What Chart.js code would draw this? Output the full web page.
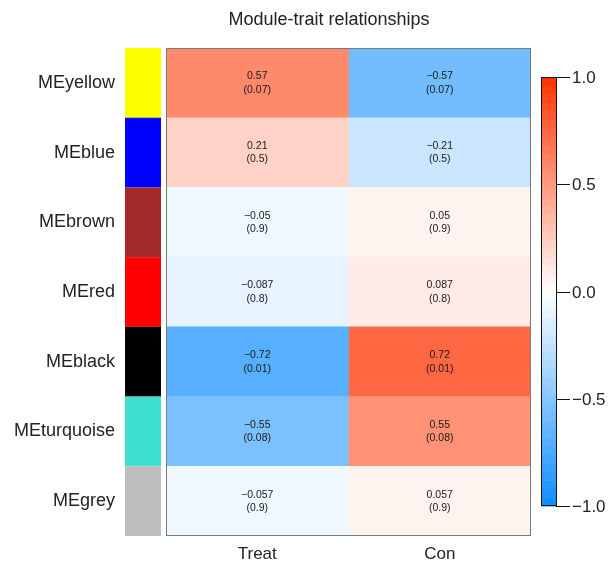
<!DOCTYPE html>
<html>
<head>
<meta charset="utf-8">
<script src="https://cdn.jsdelivr.net/npm/chart.js@4"></script>
<style>
  html, body { margin: 0; padding: 0; background: #ffffff; }
  #wrap { width: 608px; height: 565px; }
</style>
</head>
<body>
<div id="wrap"><canvas id="c" width="608" height="565"></canvas></div>
<script>
// Module eigengenes (rows) and their colour swatches
const modules = ['MEyellow', 'MEblue', 'MEbrown', 'MEred', 'MEblack', 'MEturquoise', 'MEgrey'];
const moduleColors = ['#FFFF00', '#0000FF', '#A52A2A', '#FF0000', '#000000', '#40E0D0', '#BEBEBE'];

// Traits (columns)
const traits = ['Treat', 'Con'];

// Correlation of each module with each trait, and the p-values
const treatCor = [0.57, 0.21, -0.05, -0.087, -0.72, -0.55, -0.057];
const conCor = [-0.57, -0.21, 0.05, 0.087, 0.72, 0.55, 0.057];
const treatP = [0.07, 0.5, 0.9, 0.8, 0.01, 0.08, 0.9];
const conP = [0.07, 0.5, 0.9, 0.8, 0.01, 0.08, 0.9];

// Colour key
const colorbarTicks = [1.0, 0.5, 0.0, -0.5, -1.0];

const FONT = "'Liberation Sans', Arial, Helvetica, sans-serif";
const NBINS = 50;
const BLUE_END = [13, 140, 255];
const RED_END = [255, 51, 0];

// Blue-white-red palette, quantised into NBINS steps over [-1, 1]
function binCenter(v) {
  let k = Math.floor((v + 1) / 2 * NBINS);
  k = Math.max(0, Math.min(NBINS - 1, k));
  return -1 + (k + 0.5) * 2 / NBINS;
}
function rampColor(c) {
  const end = c < 0 ? BLUE_END : RED_END;
  const t = Math.abs(c);
  const ch = end.map(e => Math.round(255 + (e - 255) * t));
  return `rgb(${ch[0]},${ch[1]},${ch[2]})`;
}
function colorFor(v) { return rampColor(binCenter(v)); }

function fmt(v) { return String(v).replace('-', '\u2212'); }

const columns = [
  { cor: treatCor, p: treatP },
  { cor: conCor, p: conP }
];

const datasets = columns.map((col, j) => ({
  label: traits[j],
  data: modules.map(() => [j, j + 1]),
  backgroundColor: col.cor.map(colorFor),
  borderWidth: 0,
  barPercentage: 1,
  categoryPercentage: 1,
  grouped: false,
  xAxisID: 'x',
  yAxisID: 'y'
}));

function noPad(scale) {
  scale.paddingTop = 0;
  scale.paddingBottom = 0;
  scale.paddingLeft = 0;
  scale.paddingRight = 0;
}

const decorPlugin = {
  id: 'decor',
  afterDatasetsDraw(chart) {
    const ctx = chart.ctx;
    const area = chart.chartArea;
    const y = chart.scales.y;
    const x = chart.scales.x;
    const half = (y.getPixelForValue(1) - y.getPixelForValue(0)) / 2;
    ctx.save();

    // cell annotations: correlation and (p-value)
    ctx.fillStyle = '#1a1a1a';
    ctx.font = `10.5px ${FONT}`;
    ctx.textAlign = 'center';
    ctx.textBaseline = 'middle';
    columns.forEach((col, j) => {
      const cx = x.getPixelForValue(j + 0.5);
      modules.forEach((m, i) => {
        const cy = y.getPixelForValue(i);
        ctx.fillText(fmt(col.cor[i]), cx, cy - 6.5);
        ctx.fillText('(' + col.p[i] + ')', cx, cy + 7);
      });
    });

    // module colour strip
    modules.forEach((m, i) => {
      const cy = y.getPixelForValue(i);
      ctx.fillStyle = moduleColors[i];
      ctx.fillRect(125, cy - half, 36, half * 2);
    });

    // plot frame
    ctx.strokeStyle = '#7a7a7a';
    ctx.lineWidth = 1;
    ctx.strokeRect(Math.round(area.left) + 0.5, Math.round(area.top) + 0.5,
      Math.round(area.right - area.left) - 1, Math.round(area.bottom - area.top) - 1);

    // title
    ctx.fillStyle = '#222222';
    ctx.font = `18px ${FONT}`;
    ctx.textAlign = 'center';
    ctx.textBaseline = 'middle';
    ctx.fillText('Module-trait relationships', 329, 20);

    // colour key
    const cbLeft = 541, cbRight = 557, cbTop = 77, cbBottom = 506;
    const vToY = v => cbTop + (1 - v) / 2 * (cbBottom - cbTop);
    for (let k = 0; k < NBINS; k++) {
      const lo = -1 + k * 2 / NBINS, hi = -1 + (k + 1) * 2 / NBINS;
      ctx.fillStyle = rampColor((lo + hi) / 2);
      const y0 = vToY(hi), y1 = vToY(lo);
      ctx.fillRect(cbLeft, y0, cbRight - cbLeft, y1 - y0 + 0.5);
    }
    ctx.strokeStyle = '#111111';
    ctx.strokeRect(cbLeft + 0.5, cbTop + 0.5, cbRight - cbLeft - 1, cbBottom - cbTop - 1);
    ctx.font = `17px ${FONT}`;
    ctx.textAlign = 'left';
    ctx.fillStyle = '#222222';
    colorbarTicks.forEach(v => {
      const ty = Math.round(vToY(v)) + 0.5;
      ctx.beginPath();
      ctx.moveTo(cbRight - 1, ty);
      ctx.lineTo(cbRight + 13, ty);
      ctx.stroke();
      ctx.fillText(fmt(v.toFixed(1)), cbRight + 15, ty + 1);
    });

    ctx.restore();
  }
};

new Chart(document.getElementById('c'), {
  type: 'bar',
  data: { labels: modules, datasets },
  options: {
    indexAxis: 'y',
    responsive: false,
    animation: false,
    devicePixelRatio: 1,
    layout: { padding: { top: 48, right: 77, left: 0, bottom: 0 } },
    plugins: { legend: { display: false }, tooltip: { enabled: false }, title: { display: false } },
    scales: {
      x: { type: 'linear', min: 0, max: 2, display: false },
      y: {
        type: 'category',
        position: 'left',
        grid: { display: false, drawTicks: false },
        border: { display: false },
        ticks: { font: { family: FONT, size: 18 }, color: '#222222', padding: 51 },
        afterFit(scale) { scale.width = 166; noPad(scale); }
      },
      xl: {
        type: 'category',
        axis: 'x',
        labels: traits,
        position: 'bottom',
        offset: true,
        grid: { display: false, drawTicks: false },
        border: { display: false },
        ticks: { font: { family: FONT, size: 17 }, color: '#222222', padding: 8 },
        afterFit(scale) { scale.height = 29; noPad(scale); }
      }
    }
  },
  plugins: [decorPlugin]
});
</script>
</body>
</html>
